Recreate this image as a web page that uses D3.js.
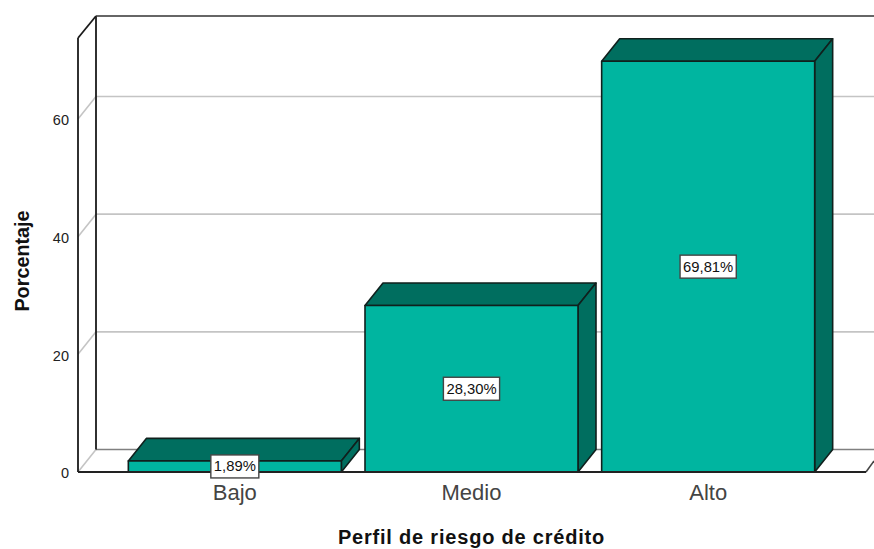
<!DOCTYPE html>
<html><head><meta charset="utf-8">
<script src="https://cdn.jsdelivr.net/npm/d3@7"></script>
<style>html,body{margin:0;padding:0;background:#fff}svg{display:block}text{font-family:"Liberation Sans",Arial,sans-serif}</style>
</head><body><svg id="c" width="874" height="549"></svg>
<script>
const categories = ["Bajo","Medio","Alto"];
const values = [1.89,28.30,69.81];
const valueLabels = ["1,89%","28,30%","69,81%"];
const yTicks = [0,20,40,60];
const yTitle = "Porcentaje", xTitle = "Perfil de riesgo de crédito";

const W=874, dx=18, dy=-22.5, x0=78, base=472, topBack=16;
const svg=d3.select("#c");
const y=d3.scaleLinear().domain([0,60]).range([base,119]);
const x=d3.scaleBand().domain(categories).range([116.5,826.5]).paddingInner(0.1).paddingOuter(0.05);
const dark="#1a1a1a", grid="#c4c4c4", front="#00b5a0", side="#006e5f";
const line=(x1,y1,x2,y2,c,w)=>svg.append("line").attr("x1",x1).attr("y1",y1).attr("x2",x2).attr("y2",y2).attr("stroke",c).attr("stroke-width",w||1);

yTicks.forEach(t=>{
  const yy=y(t);
  line(x0,yy,x0+dx,yy+dy,grid,1.6);
  line(x0+dx,yy+dy,W,yy+dy,t===0?"#808080":grid,1.7);
});
line(866,base,W,base-11,"#444",1.6);
line(x0,y(0),x0,38,dark,1.8);
line(x0+dx,base+dy,x0+dx,topBack,dark,1.8);
line(x0,38,x0+dx,topBack,dark,1.8);
line(x0+dx,topBack,W,topBack,"#333",1.7);

const g=svg.append("g").selectAll("g").data(categories.map((c,i)=>({c,v:values[i],l:valueLabels[i]}))).join("g");
const sty=s=>s.attr("stroke","#10201d").attr("stroke-width",1.6).attr("stroke-linejoin","round");
g.append("polygon").attr("points",d=>{const a=x(d.c),b=a+x.bandwidth(),t=y(d.v);return [[a,t],[a+dx,t+dy],[b+dx,t+dy],[b,t]].join(" ")}).attr("fill",side).call(sty);
g.append("polygon").attr("points",d=>{const b=x(d.c)+x.bandwidth(),t=y(d.v);return [[b,t],[b+dx,t+dy],[b+dx,base+dy],[b,base]].join(" ")}).attr("fill",side).call(sty);
g.append("rect").attr("x",d=>x(d.c)).attr("y",d=>y(d.v)).attr("width",x.bandwidth()).attr("height",d=>base-y(d.v)).attr("fill",front).call(sty);

line(x0,base,866,base,"#222",1.8);

const lab=svg.append("g").selectAll("g").data(categories.map((c,i)=>({c,v:values[i],l:valueLabels[i]}))).join("g")
  .attr("transform",d=>`translate(${x(d.c)+x.bandwidth()/2},${(y(d.v)+base)/2})`);
lab.append("rect").attr("x",d=>-(d.l.length*4.1+3.5)).attr("width",d=>2*(d.l.length*4.1+3.5)).attr("y",-11.5).attr("height",23)
  .attr("fill","#fff").attr("stroke","#444").attr("stroke-width",1.4);
lab.append("text").attr("text-anchor","middle").attr("dy",5).attr("font-size",14.8).attr("fill","#111").text(d=>d.l);

const ya=svg.append("g").attr("transform",`translate(${x0},0)`).call(d3.axisLeft(y).tickValues(yTicks).tickSize(0).tickPadding(9));
ya.select(".domain").remove();
ya.selectAll("text").attr("font-size",14.5).attr("fill","#222").attr("dy","0.4em").style("font-family",'"Liberation Sans",Arial,sans-serif');

const xa=svg.append("g").attr("transform",`translate(0,${base})`).call(d3.axisBottom(x).tickSize(0).tickPadding(12));
xa.select(".domain").remove();
xa.selectAll("text").attr("font-size",22).attr("fill","#444").style("font-family",'"Liberation Sans",Arial,sans-serif');

svg.append("text").attr("x",471.5).attr("y",544).attr("text-anchor","middle").attr("font-size",20).attr("letter-spacing",0.8).attr("font-weight","bold").attr("fill","#111").text(xTitle);
svg.append("text").attr("transform","translate(29,261) rotate(-90)").attr("text-anchor","middle").attr("font-size",19.8).attr("font-weight","bold").attr("fill","#111").text(yTitle);
</script></body></html>
